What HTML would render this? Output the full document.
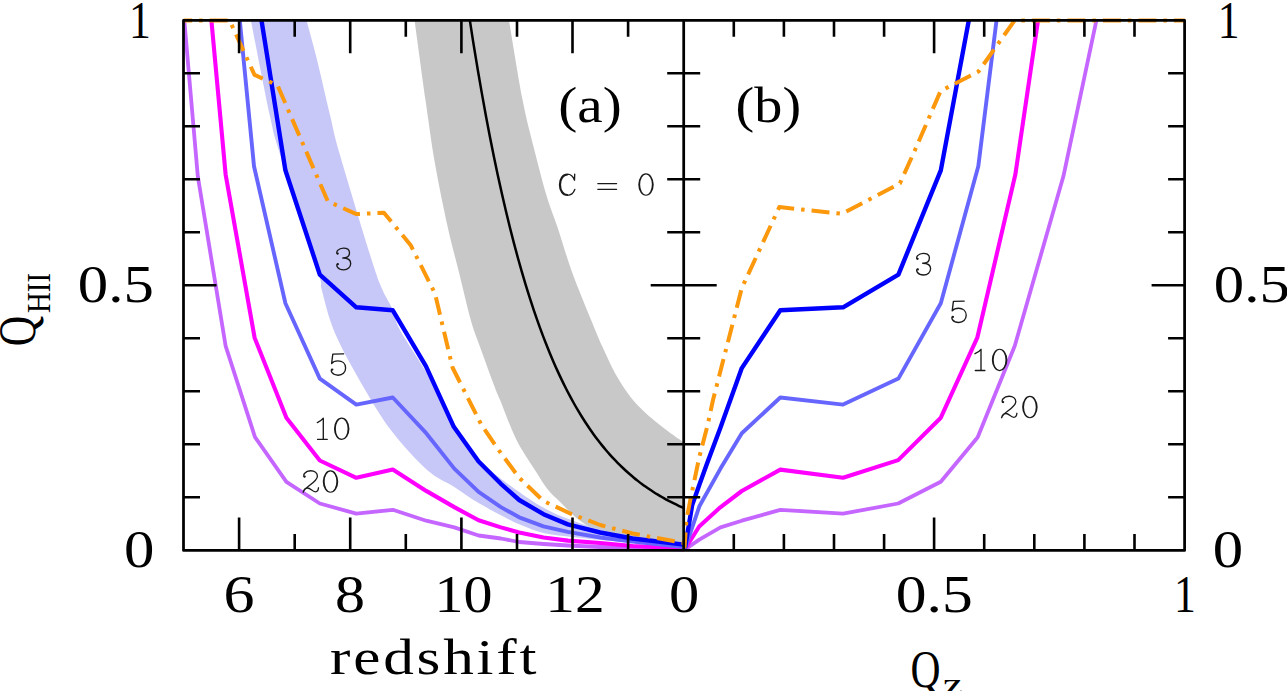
<!DOCTYPE html>
<html><head><meta charset="utf-8"><title>Q_HII</title>
<style>html,body{margin:0;padding:0;background:#fff}svg{display:block}text{font-family:"Liberation Serif",serif;fill:#000}</style></head><body>
<svg width="1287" height="691" viewBox="0 0 1287 691">
<rect width="1287" height="691" fill="#fff"/>
<path fill="#c8c8c8" d="M414.60 20.40C416.42 33.67 422.10 76.12 425.50 100.00C428.90 123.88 431.28 142.47 435.00 163.70C438.72 184.93 443.82 209.35 447.80 227.40C451.78 245.45 455.08 256.62 458.90 272.00C462.72 287.38 467.25 307.40 470.70 319.70C474.15 332.00 475.68 334.80 479.60 345.80C483.52 356.80 490.78 376.67 494.20 385.70C497.62 394.73 496.42 391.05 500.10 400.00C503.78 408.95 510.42 427.62 516.30 439.40C522.18 451.18 530.08 462.27 535.40 470.70C540.72 479.13 544.15 484.87 548.20 490.00C552.25 495.13 555.23 497.03 559.70 501.50C564.17 505.97 569.95 512.55 575.00 516.80C580.05 521.05 584.17 524.13 590.00 527.00C595.83 529.87 601.67 531.92 610.00 534.00C618.33 536.08 627.68 537.50 640.00 539.50C652.32 541.50 676.58 544.92 683.90 546.00L683.90 442.50C681.42 440.75 673.73 435.50 669.00 432.00C664.27 428.50 659.83 425.08 655.50 421.50C651.17 417.92 647.17 414.58 643.00 410.50C638.83 406.42 635.08 403.08 630.50 397.00C625.92 390.92 620.25 382.53 615.50 374.00C610.75 365.47 606.08 354.85 602.00 345.80C597.92 336.75 596.00 332.00 591.00 319.70C586.00 307.40 577.57 287.38 572.00 272.00C566.43 256.62 561.85 240.15 557.60 227.40C553.35 214.65 550.47 208.77 546.50 195.50C542.53 182.23 537.78 163.72 533.80 147.80C529.82 131.88 526.73 121.23 522.60 100.00C518.47 78.77 511.27 33.67 509.00 20.40Z"/>
<path fill="#c8c8f8" d="M250.90 20.40C254.03 36.17 264.80 92.57 269.70 115.00C274.60 137.43 272.33 129.23 280.30 155.00C288.27 180.77 310.58 247.10 317.50 269.60C324.42 292.10 318.88 279.40 321.80 290.00C324.72 300.60 328.02 316.97 335.00 333.20C341.98 349.43 354.13 370.93 363.70 387.40C373.27 403.87 381.78 418.20 392.40 432.00C403.02 445.80 417.08 461.05 427.40 470.20C437.72 479.35 445.77 481.42 454.30 486.90C462.83 492.38 470.83 498.38 478.60 503.10C486.37 507.82 494.13 511.67 500.90 515.20C507.67 518.73 512.10 521.33 519.20 524.30C526.30 527.27 535.03 530.92 543.50 533.00C551.97 535.08 560.58 535.67 570.00 536.80C579.42 537.93 581.02 537.93 600.00 539.80C618.98 541.67 669.92 546.63 683.90 548.00L683.90 543.00C673.25 541.50 638.35 537.68 620.00 534.00C601.65 530.32 587.13 525.62 573.80 520.90C560.47 516.18 552.13 512.72 540.00 505.70C527.87 498.68 511.33 486.75 501.00 478.80C490.67 470.85 486.02 466.87 478.00 458.00C469.98 449.13 461.33 439.50 452.90 425.60C444.47 411.70 436.22 390.53 427.40 374.60C418.58 358.67 405.83 340.93 400.00 330.00C394.17 319.07 395.30 315.67 392.40 309.00C389.50 302.33 386.05 298.17 382.60 290.00C379.15 281.83 378.80 282.50 371.70 260.00C364.60 237.50 346.95 179.17 340.00 155.00C333.05 130.83 333.88 131.10 330.00 115.00C326.12 98.90 320.60 74.17 316.70 58.40C312.80 42.63 308.28 26.73 306.60 20.40Z"/>
<path fill="none" stroke="#000" stroke-width="2.5" d="M469.85 20.30C470.52 24.59 472.52 37.68 473.85 46.01C475.18 54.34 476.52 62.37 477.85 70.26C479.18 78.16 480.52 85.86 481.85 93.38C483.18 100.90 484.52 108.24 485.85 115.41C487.18 122.58 488.52 129.57 489.85 136.40C491.18 143.23 492.52 149.88 493.85 156.39C495.18 162.89 496.52 169.23 497.85 175.42C499.18 181.62 500.52 187.65 501.85 193.55C503.18 199.45 504.52 205.19 505.85 210.81C507.18 216.42 508.52 221.89 509.85 227.23C511.18 232.57 512.52 237.77 513.85 242.86C515.18 247.94 516.52 252.89 517.85 257.72C519.18 262.56 520.52 267.27 521.85 271.87C523.18 276.47 524.52 280.95 525.85 285.32C527.18 289.70 528.52 293.95 529.85 298.11C531.18 302.27 532.52 306.32 533.85 310.28C535.18 314.23 536.52 318.08 537.85 321.84C539.18 325.60 540.52 329.26 541.85 332.84C543.18 336.41 544.52 339.89 545.85 343.29C547.18 346.69 548.52 349.99 549.85 353.22C551.18 356.45 552.52 359.59 553.85 362.66C555.18 365.73 556.52 368.71 557.85 371.63C559.18 374.54 560.52 377.38 561.85 380.15C563.18 382.92 564.52 385.62 565.85 388.25C567.18 390.88 568.52 393.44 569.85 395.94C571.18 398.44 572.52 400.87 573.85 403.25C575.18 405.62 576.52 407.93 577.85 410.19C579.18 412.44 580.52 414.64 581.85 416.78C583.18 418.93 584.52 421.01 585.85 423.05C587.18 425.08 588.52 427.06 589.85 428.99C591.18 430.93 592.52 432.81 593.85 434.65C595.18 436.48 596.52 438.27 597.85 440.01C599.18 441.76 600.52 443.45 601.85 445.11C603.18 446.77 604.52 448.38 605.85 449.95C607.18 451.52 608.52 453.05 609.85 454.55C611.18 456.04 612.52 457.50 613.85 458.92C615.18 460.34 616.52 461.72 617.85 463.06C619.18 464.41 620.52 465.72 621.85 467.00C623.18 468.28 624.52 469.53 625.85 470.75C627.18 471.96 628.52 473.15 629.85 474.30C631.18 475.46 632.52 476.58 633.85 477.68C635.18 478.78 636.52 479.84 637.85 480.89C639.18 481.93 640.52 482.94 641.85 483.93C643.18 484.92 644.52 485.89 645.85 486.83C647.18 487.77 648.52 488.68 649.85 489.58C651.18 490.47 652.52 491.34 653.85 492.19C655.18 493.04 656.52 493.87 657.85 494.68C659.18 495.48 660.52 496.27 661.85 497.04C663.18 497.80 664.52 498.55 665.85 499.28C667.18 500.01 668.52 500.72 669.85 501.41C671.18 502.10 672.52 502.78 673.85 503.44C675.18 504.09 676.52 504.74 677.85 505.36C679.18 505.99 680.88 506.75 681.85 507.19C682.83 507.63 683.39 507.87 683.70 508.01"/>
<polyline fill="none" stroke="#c466ff" stroke-width="3.8" stroke-linejoin="round"  points="184.3,20.4 197.8,176.3 225.6,345.8 255.0,437.2 286.4,481.8 319.8,503.5 356.3,513.6 392.8,509.8 426.2,520.7 454.3,527.4 478.6,535.5 500.9,538.5 519.2,542.0 543.5,544.0 567.8,545.5 600.2,547.0 632.6,548.0 683.9,549.5"/>
<polyline fill="none" stroke="#c466ff" stroke-width="3.8" stroke-linejoin="round"  points="685.0,549.5 699.3,539.6 720.5,527.4 741.8,520.7 780.3,509.8 843.1,513.6 898.2,503.5 940.8,481.8 977.7,437.2 1014.8,345.8 1063.4,176.3 1096.4,20.4"/>
<polyline fill="none" stroke="#ff00ff" stroke-width="4.1" stroke-linejoin="round"  points="211.4,20.4 225.6,174.3 254.6,337.7 286.4,417.7 319.8,460.5 356.3,477.8 392.8,469.6 426.2,490.9 454.3,507.1 478.6,520.3 500.9,527.4 519.2,532.5 543.5,537.5 567.8,540.6 600.2,543.0 632.6,546.0 683.9,548.5"/>
<polyline fill="none" stroke="#ff00ff" stroke-width="4.1" stroke-linejoin="round"  points="685.0,549.0 699.2,526.5 720.3,507.3 741.8,491.0 780.3,469.6 843.1,477.8 898.2,460.1 940.8,417.7 977.3,337.7 1015.4,174.3 1038.0,20.4"/>
<polyline fill="none" stroke="#6666ff" stroke-width="3.9" stroke-linejoin="round"  points="239.8,20.4 254.0,166.2 285.4,303.2 319.8,378.6 356.3,404.6 392.8,397.5 426.2,433.2 454.3,468.6 478.6,491.9 500.9,507.1 519.2,517.3 543.5,526.4 567.8,531.9 600.2,537.5 632.6,541.6 683.9,547.0"/>
<polyline fill="none" stroke="#6666ff" stroke-width="3.9" stroke-linejoin="round"  points="685.0,548.5 699.5,506.0 720.5,468.6 741.8,433.2 780.3,397.5 843.1,404.6 898.4,378.6 940.8,303.2 978.3,166.2 996.5,20.4"/>
<polyline fill="none" stroke="#0000ff" stroke-width="4.4" stroke-linejoin="round"  points="261.5,20.4 285.4,170.3 319.8,274.6 356.3,307.3 392.8,310.3 425.9,366.2 453.8,426.8 478.6,461.5 500.9,483.8 519.2,500.0 543.5,514.2 567.8,524.4 600.2,532.5 632.6,538.5 683.9,544.6"/>
<polyline fill="none" stroke="#0000ff" stroke-width="4.4" stroke-linejoin="round"  points="685.0,548.0 692.2,505.0 699.1,485.6 706.3,465.6 720.5,427.5 741.8,368.1 780.3,310.3 843.1,307.3 898.4,274.6 940.8,170.3 968.8,20.4"/>
<polyline fill="none" stroke="#fb980c" stroke-width="4" stroke-linejoin="round" stroke-dasharray="18 7 3.5 7" stroke-dashoffset="9.5" points="183.6,20.4 229.6,20.4 254.5,74.9 277.5,85.3 327.8,201.3 356.4,214.1 383.9,212.7 410.7,245.2 435.0,293.5 452.5,367.5 481.2,424.5 498.9,450.4 519.2,477.8 543.5,501.0 571.8,514.2 600.2,525.0 632.6,533.5 683.9,543.0"/>
<polyline fill="none" stroke="#fb980c" stroke-width="4" stroke-linejoin="round" stroke-dasharray="18 7 3.5 7" stroke-dashoffset="2.26" points="684.5,548.0 686.4,520.4 690.1,501.0 699.1,457.9 707.4,426.0 713.0,400.0 741.8,288.0 779.3,207.1 842.1,213.8 899.9,183.4 915.0,150.0 940.6,91.0 978.5,71.5 1014.6,20.4 1184.9,20.4"/>
<path fill="none" stroke="#000" stroke-width="2.75" stroke-linejoin="round" d="M183.5 20.3H1184.6V550.4H183.5ZM683.7 20.3V550.4"/>
<path fill="none" stroke="#000" stroke-width="2.6" d="M239.1 20.3v33.0M239.1 550.4v-33.0M294.7 20.3v16.5M294.7 550.4v-16.5M350.2 20.3v33.0M350.2 550.4v-33.0M405.8 20.3v16.5M405.8 550.4v-16.5M461.4 20.3v33.0M461.4 550.4v-33.0M517.0 20.3v16.5M517.0 550.4v-16.5M572.5 20.3v33.0M572.5 550.4v-33.0M628.1 20.3v16.5M628.1 550.4v-16.5M733.8 20.3v16.5M733.8 550.4v-16.5M183.5 497.3h16.5M1184.6 497.3h-16.5M667.2 497.3h33.0M783.9 20.3v16.5M783.9 550.4v-16.5M183.5 444.3h16.5M1184.6 444.3h-16.5M667.2 444.3h33.0M834.0 20.3v16.5M834.0 550.4v-16.5M183.5 391.3h16.5M1184.6 391.3h-16.5M667.2 391.3h33.0M884.1 20.3v16.5M884.1 550.4v-16.5M183.5 338.3h16.5M1184.6 338.3h-16.5M667.2 338.3h33.0M934.1 20.3v33.0M934.1 550.4v-33.0M183.5 285.3h33.0M1184.6 285.3h-33.0M650.7 285.3h66.0M984.2 20.3v16.5M984.2 550.4v-16.5M183.5 232.3h16.5M1184.6 232.3h-16.5M667.2 232.3h33.0M1034.3 20.3v16.5M1034.3 550.4v-16.5M183.5 179.3h16.5M1184.6 179.3h-16.5M667.2 179.3h33.0M1084.4 20.3v16.5M1084.4 550.4v-16.5M183.5 126.3h16.5M1184.6 126.3h-16.5M667.2 126.3h33.0M1134.5 20.3v16.5M1134.5 550.4v-16.5M183.5 73.3h16.5M1184.6 73.3h-16.5M667.2 73.3h33.0"/>
<text x="140.0" y="38.0" font-size="52" text-anchor="middle" textLength="21.8" lengthAdjust="spacingAndGlyphs" >1</text>
<text x="115.8" y="302.4" font-size="52" text-anchor="middle" textLength="76.0" lengthAdjust="spacingAndGlyphs" >0.5</text>
<text x="139.2" y="566.9" font-size="52" text-anchor="middle" textLength="30.4" lengthAdjust="spacingAndGlyphs" >0</text>
<text x="1228.7" y="38.0" font-size="52" text-anchor="middle" textLength="21.8" lengthAdjust="spacingAndGlyphs" >1</text>
<text x="1251.8" y="302.4" font-size="52" text-anchor="middle" textLength="76.0" lengthAdjust="spacingAndGlyphs" >0.5</text>
<text x="1228.0" y="566.9" font-size="52" text-anchor="middle" textLength="30.4" lengthAdjust="spacingAndGlyphs" >0</text>
<text x="239.0" y="611.7" font-size="52" text-anchor="middle" textLength="31.0" lengthAdjust="spacingAndGlyphs" >6</text>
<text x="350.0" y="611.7" font-size="52" text-anchor="middle" textLength="30.0" lengthAdjust="spacingAndGlyphs" >8</text>
<text x="463.5" y="611.7" font-size="52" text-anchor="middle" textLength="58.0" lengthAdjust="spacingAndGlyphs" >10</text>
<text x="575.0" y="611.7" font-size="52" text-anchor="middle" textLength="59.4" lengthAdjust="spacingAndGlyphs" >12</text>
<text x="684.1" y="611.7" font-size="52" text-anchor="middle" textLength="30.3" lengthAdjust="spacingAndGlyphs" >0</text>
<text x="934.2" y="611.7" font-size="52" text-anchor="middle" textLength="77.0" lengthAdjust="spacingAndGlyphs" >0.5</text>
<text x="1184.8" y="611.7" font-size="52" text-anchor="middle" textLength="21.8" lengthAdjust="spacingAndGlyphs" >1</text>
<text transform="translate(330,674.1) scale(1.2,1)" x="0" y="0" font-size="51" textLength="172.1" lengthAdjust="spacing">redshift</text>
<text x="910.5" y="687.0" font-size="52" text-anchor="start" textLength="30.0" lengthAdjust="spacingAndGlyphs" >Q</text>
<text x="942.8" y="696.0" font-size="34" text-anchor="start" textLength="20.0" lengthAdjust="spacingAndGlyphs" >z</text>
<g transform="translate(35.2,346.3) rotate(-90)">
<text x="0.0" y="0.0" font-size="52" text-anchor="start" textLength="30.5" lengthAdjust="spacingAndGlyphs" >Q</text>
</g>
<g transform="translate(50,313) rotate(-90)">
<text x="0.0" y="0.0" font-size="34" text-anchor="start" textLength="40.0" lengthAdjust="spacingAndGlyphs" >HII</text>
</g>
<text x="558.3" y="122.3" font-size="50" text-anchor="start" textLength="63.5" lengthAdjust="spacingAndGlyphs" >(a)</text>
<text x="735.6" y="122.3" font-size="50" text-anchor="start" textLength="65.5" lengthAdjust="spacingAndGlyphs" >(b)</text>
<path transform="translate(334.2,270.0)" fill="none" stroke="#1a1a1a" stroke-width="1.35" stroke-linecap="round" stroke-linejoin="round" d="M3.1 -16.2 C2.3 -16.7 2.5 -18.5 3.5 -19.6 C4.8 -21 6.8 -21.9 9.2 -21.9 C12.8 -21.9 15.3 -20 15.3 -17.2 C15.3 -14 12.6 -12 8.6 -12 C13.1 -12 16.5 -10.2 16.5 -6.6 C16.5 -2.8 13.5 -0.2 9.5 -0.2 C6.9 -0.2 4.6 -1.1 3.4 -2.7 C2.4 -4 2.3 -5.6 3.2 -6"/>
<circle cx="337.7" cy="253.6" r="1.15" fill="#1a1a1a"/>
<circle cx="337.8" cy="264.2" r="1.15" fill="#1a1a1a"/>
<path transform="translate(328.6,375.2)" fill="none" stroke="#1a1a1a" stroke-width="1.35" stroke-linecap="round" stroke-linejoin="round" d="M15 -21.4 L4.2 -21.1 L3 -11.7 C4.5 -13.5 6.8 -14.3 9.3 -14.3 C13.8 -14.3 17 -11.5 17 -7.2 C17 -2.8 13.8 0 9.6 0 C7 0 4.7 -0.9 3.5 -2.5 C2.5 -3.8 2.4 -5.4 3.3 -5.8"/>
<circle cx="332.3" cy="369.6" r="1.15" fill="#1a1a1a"/>
<path transform="translate(312.0,439.9)" fill="none" stroke="#1a1a1a" stroke-width="1.35" stroke-linecap="round" stroke-linejoin="round" d="M5.3 -17.3 Q9.2 -18.9 11.3 -21.7 L11.3 -0.5 M5.6 -0.5 L15.2 -0.5"/>
<path transform="translate(331.8,439.9)" fill="#1a1a1a" fill-rule="evenodd" d="M2.15 -11.10A7.75 11.25 0 1 0 17.65 -11.10A7.75 11.25 0 1 0 2.15 -11.10ZM4.05 -11.10A5.85 10.05 0 1 0 15.75 -11.10A5.85 10.05 0 1 0 4.05 -11.10Z"/>
<path transform="translate(300.8,492.7)" fill="none" stroke="#1a1a1a" stroke-width="1.35" stroke-linecap="round" stroke-linejoin="round" d="M3.5 -15.9 C2.6 -16.4 2.9 -18.4 3.9 -19.5 C5.2 -21.1 7.3 -22 9.8 -22 C13.8 -22 16.6 -19.7 16.6 -16.5 C16.6 -13.2 13.2 -10.6 8.6 -7.2 C5.4 -4.8 3.2 -3 2.4 -0.5 C3 -3.2 4.7 -4.7 7 -4.7 C9.6 -4.7 11.6 -0.9 14.6 -0.9 C16.5 -0.9 17.5 -2.5 17.7 -4.9"/>
<circle cx="304.7" cy="476.6" r="1.15" fill="#1a1a1a"/>
<path transform="translate(320.6,492.7)" fill="#1a1a1a" fill-rule="evenodd" d="M2.15 -11.10A7.75 11.25 0 1 0 17.65 -11.10A7.75 11.25 0 1 0 2.15 -11.10ZM4.05 -11.10A5.85 10.05 0 1 0 15.75 -11.10A5.85 10.05 0 1 0 4.05 -11.10Z"/>
<path transform="translate(914.1,275.2)" fill="none" stroke="#1a1a1a" stroke-width="1.35" stroke-linecap="round" stroke-linejoin="round" d="M3.1 -16.2 C2.3 -16.7 2.5 -18.5 3.5 -19.6 C4.8 -21 6.8 -21.9 9.2 -21.9 C12.8 -21.9 15.3 -20 15.3 -17.2 C15.3 -14 12.6 -12 8.6 -12 C13.1 -12 16.5 -10.2 16.5 -6.6 C16.5 -2.8 13.5 -0.2 9.5 -0.2 C6.9 -0.2 4.6 -1.1 3.4 -2.7 C2.4 -4 2.3 -5.6 3.2 -6"/>
<circle cx="917.6" cy="258.8" r="1.15" fill="#1a1a1a"/>
<circle cx="917.8" cy="269.4" r="1.15" fill="#1a1a1a"/>
<path transform="translate(949.2,322.5)" fill="none" stroke="#1a1a1a" stroke-width="1.35" stroke-linecap="round" stroke-linejoin="round" d="M15 -21.4 L4.2 -21.1 L3 -11.7 C4.5 -13.5 6.8 -14.3 9.3 -14.3 C13.8 -14.3 17 -11.5 17 -7.2 C17 -2.8 13.8 0 9.6 0 C7 0 4.7 -0.9 3.5 -2.5 C2.5 -3.8 2.4 -5.4 3.3 -5.8"/>
<circle cx="952.9" cy="316.9" r="1.15" fill="#1a1a1a"/>
<path transform="translate(969.7,371.0)" fill="none" stroke="#1a1a1a" stroke-width="1.35" stroke-linecap="round" stroke-linejoin="round" d="M5.3 -17.3 Q9.2 -18.9 11.3 -21.7 L11.3 -0.5 M5.6 -0.5 L15.2 -0.5"/>
<path transform="translate(989.7,371.0)" fill="#1a1a1a" fill-rule="evenodd" d="M2.15 -11.10A7.75 11.25 0 1 0 17.65 -11.10A7.75 11.25 0 1 0 2.15 -11.10ZM4.05 -11.10A5.85 10.05 0 1 0 15.75 -11.10A5.85 10.05 0 1 0 4.05 -11.10Z"/>
<path transform="translate(999.2,418.2)" fill="none" stroke="#1a1a1a" stroke-width="1.35" stroke-linecap="round" stroke-linejoin="round" d="M3.5 -15.9 C2.6 -16.4 2.9 -18.4 3.9 -19.5 C5.2 -21.1 7.3 -22 9.8 -22 C13.8 -22 16.6 -19.7 16.6 -16.5 C16.6 -13.2 13.2 -10.6 8.6 -7.2 C5.4 -4.8 3.2 -3 2.4 -0.5 C3 -3.2 4.7 -4.7 7 -4.7 C9.6 -4.7 11.6 -0.9 14.6 -0.9 C16.5 -0.9 17.5 -2.5 17.7 -4.9"/>
<circle cx="1003.1" cy="402.1" r="1.15" fill="#1a1a1a"/>
<path transform="translate(1020.0,418.2)" fill="#1a1a1a" fill-rule="evenodd" d="M2.15 -11.10A7.75 11.25 0 1 0 17.65 -11.10A7.75 11.25 0 1 0 2.15 -11.10ZM4.05 -11.10A5.85 10.05 0 1 0 15.75 -11.10A5.85 10.05 0 1 0 4.05 -11.10Z"/>
<path transform="translate(557.1,195.7)" fill="none" stroke="#1a1a1a" stroke-width="1.35" stroke-linecap="round" stroke-linejoin="round" d="M17.6 -21.5 L17.4 -15.5 C16 -19.6 13.4 -21.6 10.3 -21.6 C5.6 -21.6 2.4 -17.2 2.4 -11 C2.4 -4.8 5.6 -0.4 10.3 -0.4 C13.6 -0.4 16.3 -2.4 17.7 -6.2 M10.3 -21 C6.4 -21 3.3 -16.9 3.3 -11 C3.3 -5.1 6.4 -1 10.3 -1"/>
<path transform="translate(597.3,195.7)" fill="none" stroke="#1a1a1a" stroke-width="1.25" stroke-linecap="round" stroke-linejoin="round" d="M0.5 -12.1 L19.3 -12.1 M0.5 -6.4 L19.3 -6.4"/>
<path transform="translate(636.1,195.7)" fill="#1a1a1a" fill-rule="evenodd" d="M2.15 -11.10A7.75 11.25 0 1 0 17.65 -11.10A7.75 11.25 0 1 0 2.15 -11.10ZM4.05 -11.10A5.85 10.05 0 1 0 15.75 -11.10A5.85 10.05 0 1 0 4.05 -11.10Z"/>
</svg></body></html>
